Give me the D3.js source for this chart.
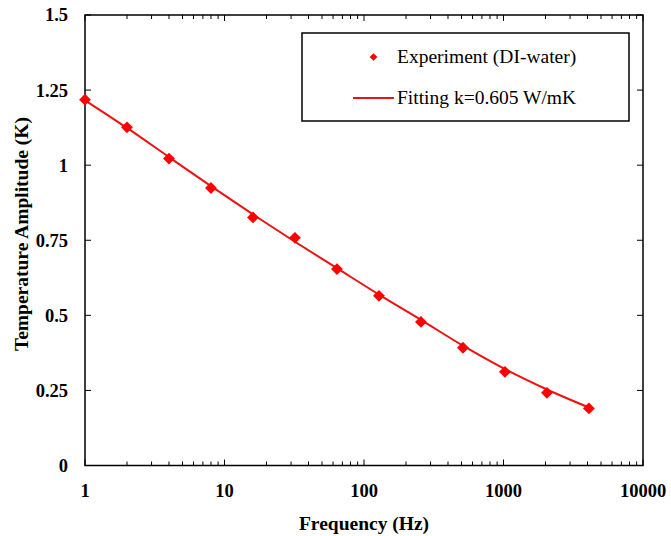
<!DOCTYPE html>
<html><head><meta charset="utf-8">
<script src="https://cdn.jsdelivr.net/npm/d3@7"></script>
<style>body{margin:0;background:#fff}svg{display:block}</style>
</head><body>
<script>
const freqs = [1, 2, 4, 8, 16, 32, 64, 128, 256, 512, 1024, 2048, 4096];
const experiment = [1.218, 1.126, 1.022, 0.924, 0.826, 0.758, 0.654, 0.565, 0.478, 0.392, 0.312, 0.242, 0.190];
const fitFreqs = [1, 2, 4, 8, 16, 32, 64, 128, 256, 512, 1024, 2048, 4096];
const fitting = [1.216, 1.124, 1.027, 0.930, 0.836, 0.745, 0.657, 0.569, 0.485, 0.399, 0.321, 0.253, 0.193];
const xTicks = [1, 10, 100, 1000, 10000];
const yTicks = [0, 0.25, 0.5, 0.75, 1, 1.25, 1.5];
const yTickLabels = ["0", "0.25", "0.5", "0.75", "1", "1.25", "1.5"];
const legendLabels = ["Experiment (DI-water)", "Fitting k=0.605 W/mK"];

const W = 671, H = 536;
const m = {left: 85, right: 643, top: 15, bottom: 465.5};
const svg = d3.select("body").append("svg").attr("width", W).attr("height", H)
  .style("font-family", "'Liberation Serif','Times New Roman',serif");

const x = d3.scaleLog().domain([1, 10000]).range([m.left, m.right]);
const y = d3.scaleLinear().domain([0, 1.5]).range([m.bottom, m.top]);

const minor = [];
for (let d = 1; d < 10000; d *= 10) for (let k = 2; k <= 9; k++) minor.push(d * k);

const g = svg.append("g");
g.append("rect").attr("x", m.left).attr("y", m.top).attr("width", m.right - m.left).attr("height", m.bottom - m.top)
  .attr("fill", "none").attr("stroke", "#000").attr("stroke-width", 1.5);

const tickX = (vals, len) => {
  vals.forEach(v => {
    g.append("line").attr("x1", x(v)).attr("x2", x(v)).attr("y1", m.bottom).attr("y2", m.bottom - len).attr("stroke", "#000").attr("stroke-width", 1);
    g.append("line").attr("x1", x(v)).attr("x2", x(v)).attr("y1", m.top).attr("y2", m.top + len).attr("stroke", "#000").attr("stroke-width", 1);
  });
};
tickX(xTicks, 6);
tickX(minor, 4);
yTicks.forEach(v => {
  g.append("line").attr("x1", m.left).attr("x2", m.left + 6).attr("y1", y(v)).attr("y2", y(v)).attr("stroke", "#000");
  g.append("line").attr("x1", m.right).attr("x2", m.right - 6).attr("y1", y(v)).attr("y2", y(v)).attr("stroke", "#000");
});

xTicks.forEach(v => {
  svg.append("text").attr("x", x(v)).attr("y", 497).attr("text-anchor", "middle")
    .attr("font-size", 18.5).attr("font-weight", "bold").text(d3.format("d")(v));
});
yTicks.forEach((v, i) => {
  svg.append("text").attr("x", 68).attr("y", y(v)).attr("dy", "0.35em").attr("text-anchor", "end")
    .attr("font-size", 18.5).attr("font-weight", "bold").text(yTickLabels[i]);
});

svg.append("text").attr("x", 364).attr("y", 530).attr("text-anchor", "middle")
  .attr("font-size", 19.5).attr("font-weight", "bold").text("Frequency (Hz)");
svg.append("text").attr("transform", "translate(28,234) rotate(-90)")
  .attr("text-anchor", "middle").attr("font-size", 19.5).attr("font-weight", "bold").text("Temperature Amplitude (K)");

const line = d3.line().x((d, i) => x(fitFreqs[i])).y(d => y(d)).curve(d3.curveMonotoneX);
svg.append("path").datum(fitting).attr("d", line).attr("fill", "none").attr("stroke", "#ee1111").attr("stroke-width", 2);

svg.selectAll("path.pt").data(experiment).enter().append("path").attr("class", "pt")
  .attr("d", d3.symbol().type(d3.symbolSquare).size(70)())
  .attr("transform", (d, i) => `translate(${x(freqs[i])},${y(d)}) rotate(45)`)
  .attr("fill", "#ff0000");

const lg = svg.append("g");
lg.append("rect").attr("x", 302).attr("y", 33).attr("width", 327).attr("height", 88)
  .attr("fill", "#fff").attr("stroke", "#000").attr("stroke-width", 1.5);
lg.append("path").attr("d", d3.symbol().type(d3.symbolSquare).size(30)())
  .attr("transform", "translate(373.5,57) rotate(45)").attr("fill", "#ff0000");
lg.append("text").attr("x", 397).attr("y", 63).attr("font-size", 19.5).text(legendLabels[0]);
lg.append("line").attr("x1", 353).attr("x2", 394).attr("y1", 98).attr("y2", 98).attr("stroke", "#ee1111").attr("stroke-width", 2);
lg.append("text").attr("x", 397).attr("y", 104).attr("font-size", 19.5).text(legendLabels[1]);
</script>
</body></html>
